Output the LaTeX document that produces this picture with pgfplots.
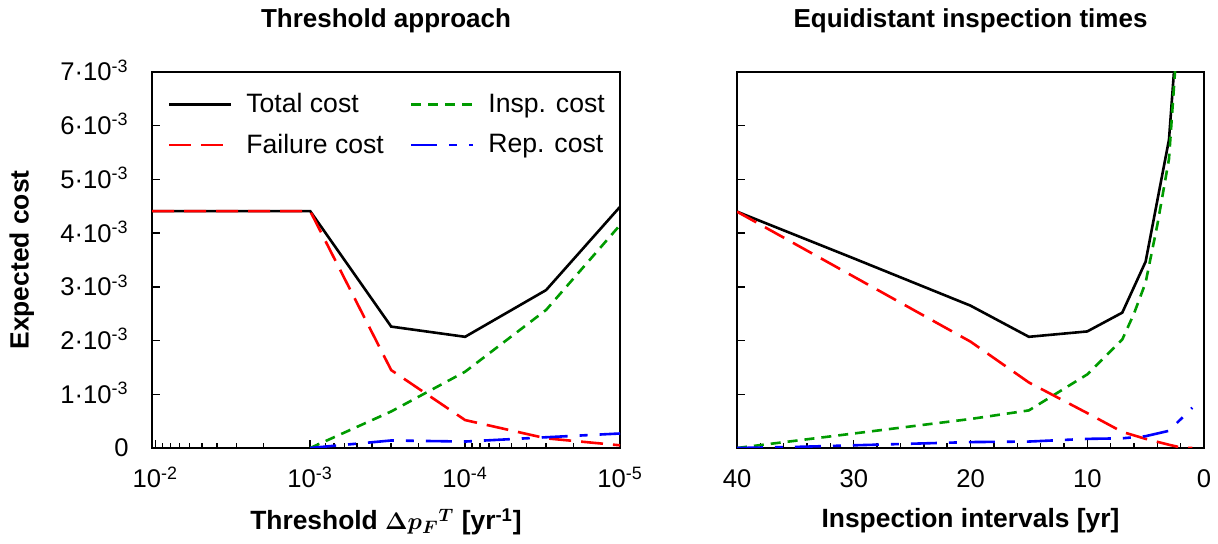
\documentclass[border=0pt]{standalone}
\usepackage{fontspec}
\setmainfont{Liberation Sans}
\usepackage{pgfplots}
\pgfplotsset{compat=1.18}
\definecolor{cgreen}{RGB}{0,155,0}
\pgfplotsset{
  common/.style={
    scale only axis, height=188pt,
    ymin=0, ymax=0.007,
    ytick={0,0.001,0.002,0.003,0.004,0.005,0.006,0.007},
    scaled y ticks=false,
    tick align=inside, tick pos=left,
    major tick length=4pt, minor tick length=2.5pt,
    every tick/.style={black, line width=0.7pt},
    axis line style={line width=0.9pt},
    tick label style={font=\fontsize{12.8}{15}\selectfont},
    xticklabel style={anchor=base, yshift=-20pt},
    yticklabel style={anchor=base east, inner xsep=0pt, xshift=-11.5pt, yshift=-4.5pt},
    label style={font=\bfseries\fontsize{13.2}{15}\selectfont},
    title style={font=\bfseries\fontsize{13}{15}\selectfont, anchor=base},
    every axis plot/.append style={line width=1.3pt},
    legend image code/.code={\draw[#1] (0pt,0pt) -- (31pt,0pt);},
  },
  tot/.style={black, solid},
  fail/.style={red, dash pattern=on 11pt off 5pt},
  insp/.style={cgreen, dash pattern=on 5pt off 3.5pt},
  rep/.style={blue, dash pattern=on 13pt off 6pt on 4pt off 6pt},
}
\begin{document}
\begin{tikzpicture}[font=\fontsize{12.8}{15}\selectfont]
\useasboundingbox (-76pt,-48pt) rectangle (533pt,224pt);
\begin{axis}[common,
  at={(0pt,0pt)}, anchor=south west, width=234pt,
  xmode=log, x dir=reverse, xmin=1e-5, xmax=1.05e-2,
  xtick={1e-5,1e-4,1e-3,1e-2},
  xticklabels={10\textsuperscript{-5},10\textsuperscript{-4},10\textsuperscript{-3},10\textsuperscript{-2}},
  minor xtick={2e-5,3e-5,4e-5,5e-5,6e-5,7e-5,8e-5,9e-5,2e-4,3e-4,4e-4,5e-4,6e-4,7e-4,8e-4,9e-4,2e-3,3e-3,4e-3,5e-3,6e-3,7e-3,8e-3,9e-3},
  yticklabels={0,1·10\textsuperscript{-3},2·10\textsuperscript{-3},3·10\textsuperscript{-3},4·10\textsuperscript{-3},5·10\textsuperscript{-3},6·10\textsuperscript{-3},7·10\textsuperscript{-3}},
  title={Threshold approach},
  title style={at={(axis description cs:0.5,1)}, yshift=16pt},
  xlabel={Threshold {\boldmath$\Delta p_F{}^{T}$} [yr\textsuperscript{-1}]},
  xlabel style={at={(axis description cs:0.5,0)}, anchor=base, yshift=-41pt},
  ylabel={Expected cost},
  ylabel style={at={(axis description cs:-0.278,0.5)}, anchor=center, rotate=0},
  legend columns=2,
  legend cell align=left,
  legend style={at={(axis description cs:0.02,0.965)}, anchor=north west, draw=none, fill=none,
    font=\fontsize{13.3}{15}\selectfont, row sep=5pt,
    /tikz/every odd column/.append style={column sep=5pt},
    /tikz/every even column/.append style={column sep=11pt}},
]
\addplot[tot] coordinates {(1.05e-2,4.41e-3) (1e-3,4.41e-3) (3e-4,2.26e-3) (1e-4,2.07e-3) (3e-5,2.94e-3) (1e-5,4.49e-3)};
\addlegendentry{Total cost}
\addplot[insp] coordinates {(1e-3,0) (3e-4,0.68e-3) (1e-4,1.42e-3) (3e-5,2.57e-3) (1e-5,4.15e-3)};
\addlegendentry{Insp. cost}
\addplot[fail] coordinates {(1.05e-2,4.41e-3) (1e-3,4.41e-3) (3e-4,1.45e-3) (1e-4,0.52e-3) (3e-5,0.18e-3) (1e-5,0.05e-3)};
\addlegendentry{Failure cost}
\addplot[rep] coordinates {(1e-3,0) (3e-4,0.14e-3) (1e-4,0.12e-3) (3e-5,0.2e-3) (1e-5,0.27e-3)};
\addlegendentry{Rep. cost}
\end{axis}
\begin{axis}[common,
  at={(292.5pt,0pt)}, anchor=south west, width=233.5pt,
  x dir=reverse, xmin=0, xmax=40,
  xtick={0,10,20,30,40}, xticklabels={0,10,20,30,40},
  minor x tick num=4,
  yticklabels={},
  title={Equidistant inspection times},
  title style={at={(axis description cs:0.5,1)}, yshift=16pt},
  xlabel={Inspection intervals [yr]},
  xlabel style={at={(axis description cs:0.5,0)}, anchor=base, yshift=-40pt},
]
\addplot[tot] coordinates {(40,4.40e-3) (30,3.53e-3) (20,2.65e-3) (15,2.07e-3) (10,2.17e-3) (7,2.52e-3) (5,3.47e-3) (3,5.74e-3) (2,8.7e-3)};
\addplot[insp] coordinates {(40,0) (30,0.27e-3) (20,0.54e-3) (15,0.70e-3) (10,1.37e-3) (7,2.02e-3) (6,2.5e-3) (5,3.08e-3) (4,4.15e-3) (3,5.38e-3) (2.5,6.95e-3) (2,8.4e-3)};
\addplot[fail] coordinates {(40,4.40e-3) (30,3.19e-3) (20,1.98e-3) (15,1.22e-3) (10,0.65e-3) (7,0.30e-3) (5,0.17e-3) (3,0.06e-3) (2,0.01e-3) (1,0)};
\addplot[rep] coordinates {(40,0) (35,0.02e-3) (30,0.05e-3) (20,0.11e-3) (15,0.12e-3) (10,0.17e-3) (7,0.18e-3) (5,0.22e-3) (3,0.32e-3) (1,0.75e-3)};
\end{axis}
\end{tikzpicture}
\end{document}
